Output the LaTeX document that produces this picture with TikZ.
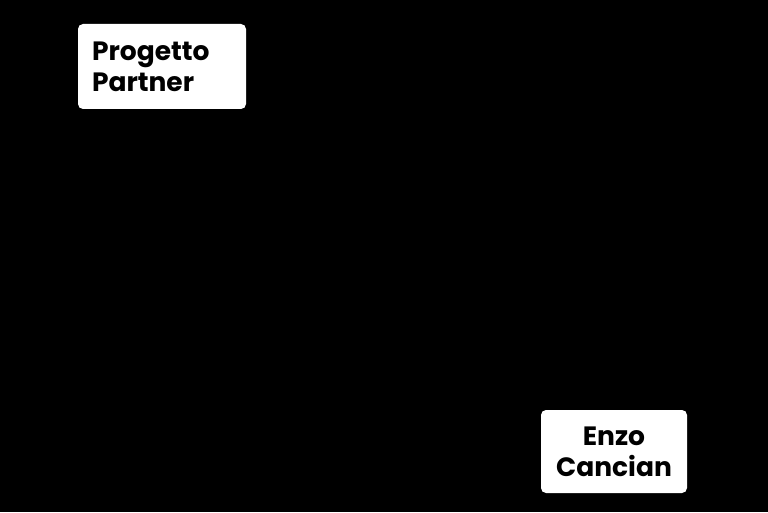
\documentclass[tikz,border=0pt]{standalone}
\usepackage{fontspec}
\setmainfont{Poppins}
\begin{document}
\begin{tikzpicture}[x=1pt,y=1pt,
		namebox/.style={fill=white, rounded corners=5pt, inner xsep=14pt, inner ysep=0pt,
			font=\fontsize{26.5}{31}\selectfont\bfseries, text=black}]
	\fill[black] (0,0) rectangle (768,512);
	\useasboundingbox (0,0) rectangle (768,512);
	%
	\node[namebox, text width=140pt, minimum height=85pt, align=left] (partner) at (162,445.5) {Progetto\\Partner};
	\node[namebox, text width=118pt, minimum height=83pt, align=center] (cancian) at (614,60.5) {Enzo\\Cancian};
\end{tikzpicture}
\end{document}
